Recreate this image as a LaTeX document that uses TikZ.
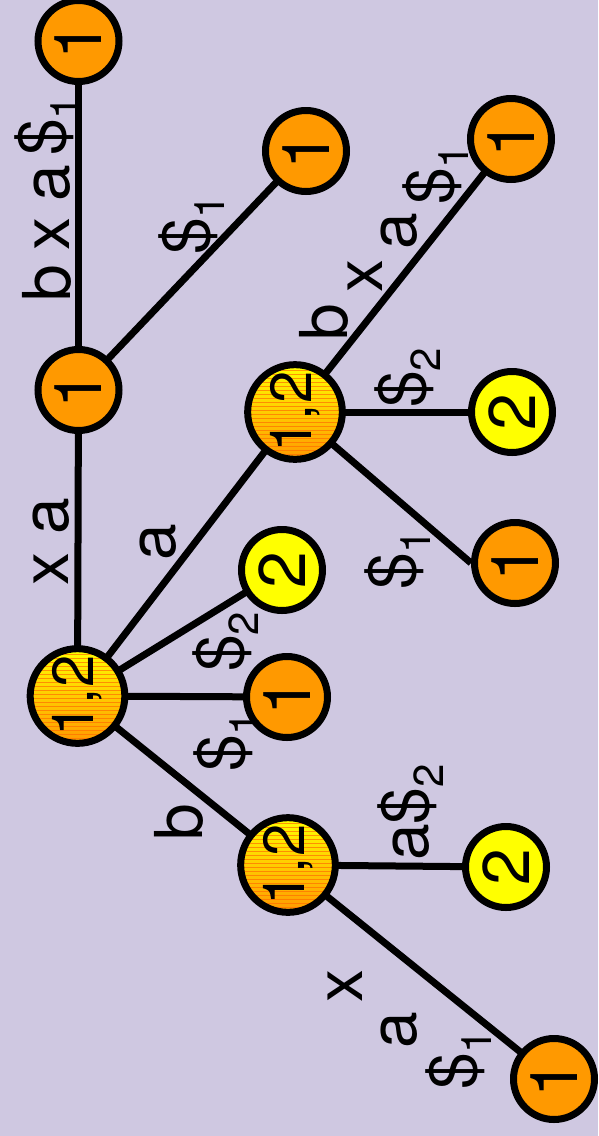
\documentclass[tikz,border=0pt]{standalone}
\usepackage{fontspec}
\setmainfont{TeX Gyre Heros}
\usepackage{graphicx}
\definecolor{bgc}{RGB}{207,200,225}
\definecolor{orng}{RGB}{255,153,0}
\definecolor{yel}{RGB}{255,255,0}
\definecolor{midc}{RGB}{255,215,0}
\definecolor{stripec}{RGB}{255,110,0}
\newcommand{\lsub}[1]{\raisebox{-15pt}{\fontsize{42}{42}\selectfont #1}}
\newcommand{\rot}[1]{\rotatebox{90}{#1}}
\pgfdeclarelayer{bg}
\pgfsetlayers{bg,main}
\begin{document}
\begin{tikzpicture}[x=1pt,y=-1pt,
  vtx/.style={circle, draw=black, line width=7pt, minimum size=81pt, inner sep=0pt,
    font=\fontsize{66}{66}\selectfont},
  leafA/.style={vtx, fill=orng},
  leafB/.style={vtx, fill=yel},
  stripes/.style={path picture={
    \foreach \k in {0,...,22}{
      \draw[stripec, line width=1pt, opacity=0.7]
        ([yshift=-\k*4pt-2pt]path picture bounding box.north west) --
        ([yshift=-\k*4pt-2pt]path picture bounding box.north east);}}},
  innerv/.style={vtx, top color=yel, middle color=midc, bottom color=orng, stripes,
    font=\fontsize{58}{58}\selectfont},
  lbl/.style={rotate=90, anchor=base west, inner sep=0pt, font=\fontsize{66}{66}\selectfont},
  edge/.style={line width=7pt, black}]
\useasboundingbox (0,0) rectangle (598,1136);

% nodes
\node[leafA] (n1) at (78.5,41) {\rot{1}};
\node[leafA] (n2) at (78.5,390) {\rot{1}};
\node[leafA] (n3) at (306,151) {\rot{1}};
\node[innerv] (root) at (77.5,696) {\rot{1,2}};
\node[innerv] (n5) at (295,412) {\rot{1,2}};
\node[leafB] (n6) at (282,570) {\rot{2}};
\node[leafA] (n7) at (287,697) {\rot{1}};
\node[innerv] (n8) at (288,865) {\rot{1,2}};
\node[leafB] (n9) at (506,867) {\rot{2}};
\node[leafA] (n10) at (554,1079) {\rot{1}};
\node[leafA] (n11) at (511,139) {\rot{1}};
\node[leafB] (n12) at (512,412) {\rot{2}};
\node[leafA] (n13) at (515,563) {\rot{1}};

% edges
\begin{pgfonlayer}{bg}
\fill[bgc] (0,0) rectangle (598,1136);
\draw[edge] (root.center) -- (n2.center);
\draw[edge] (n2.center) -- (n1.center);
\draw[edge] (n2.center) -- (n3.center);
\draw[edge] (root.center) -- (n5.center);
\draw[edge] (root.center) -- (n6.center);
\draw[edge] (root.center) -- (n7.center);
\draw[edge] (root.center) -- (n8.center);
\draw[edge] (n5.center) -- (n11.center);
\draw[edge] (n5.center) -- (n12.center);
\draw[edge] (n5.center) -- (n13.west);
\draw[edge] (n8.center) -- (n9.center);
\draw[edge] (n8.center) -- (n10.center);
\end{pgfonlayer}

% labels
\node[lbl] (l1b) at (70,302) {b};
\node[lbl] (l1x) at (69,251) {x};
\node[lbl] (l1a) at (69,202) {a};
\node[lbl] (l1d) at (65,156) {\$\lsub{1}};
\node[lbl] (l2) at (209,255) {\$\lsub{1}};
\node[lbl] (l3) at (68,586) {x a};
\node[lbl] (l4) at (175,561) {a};
\node[lbl] (l5) at (243,672) {\$\lsub{2}};
\node[lbl] (l6) at (244,772) {\$\lsub{1}};
\node[lbl] (l7) at (202,841) {b};
\node[lbl] (l8b) at (347,341) {b};
\node[lbl] (l8x) at (382,293) {x};
\node[lbl] (l8a) at (416,250) {a};
\node[lbl] (l8d) at (453,205) {\$\lsub{1}};
\node[lbl] (l9) at (425,408) {\$\lsub{2}};
\node[lbl] (l10) at (415,590) {\$\lsub{1}};
\node[lbl] (l11) at (428,861) {a\$\lsub{2}};
\node[lbl] (l12x) at (362,1003) {x};
\node[lbl] (l12a) at (416,1049) {a};
\node[lbl] (l12d) at (476,1090) {\$\lsub{1}};
\end{tikzpicture}
\end{document}
